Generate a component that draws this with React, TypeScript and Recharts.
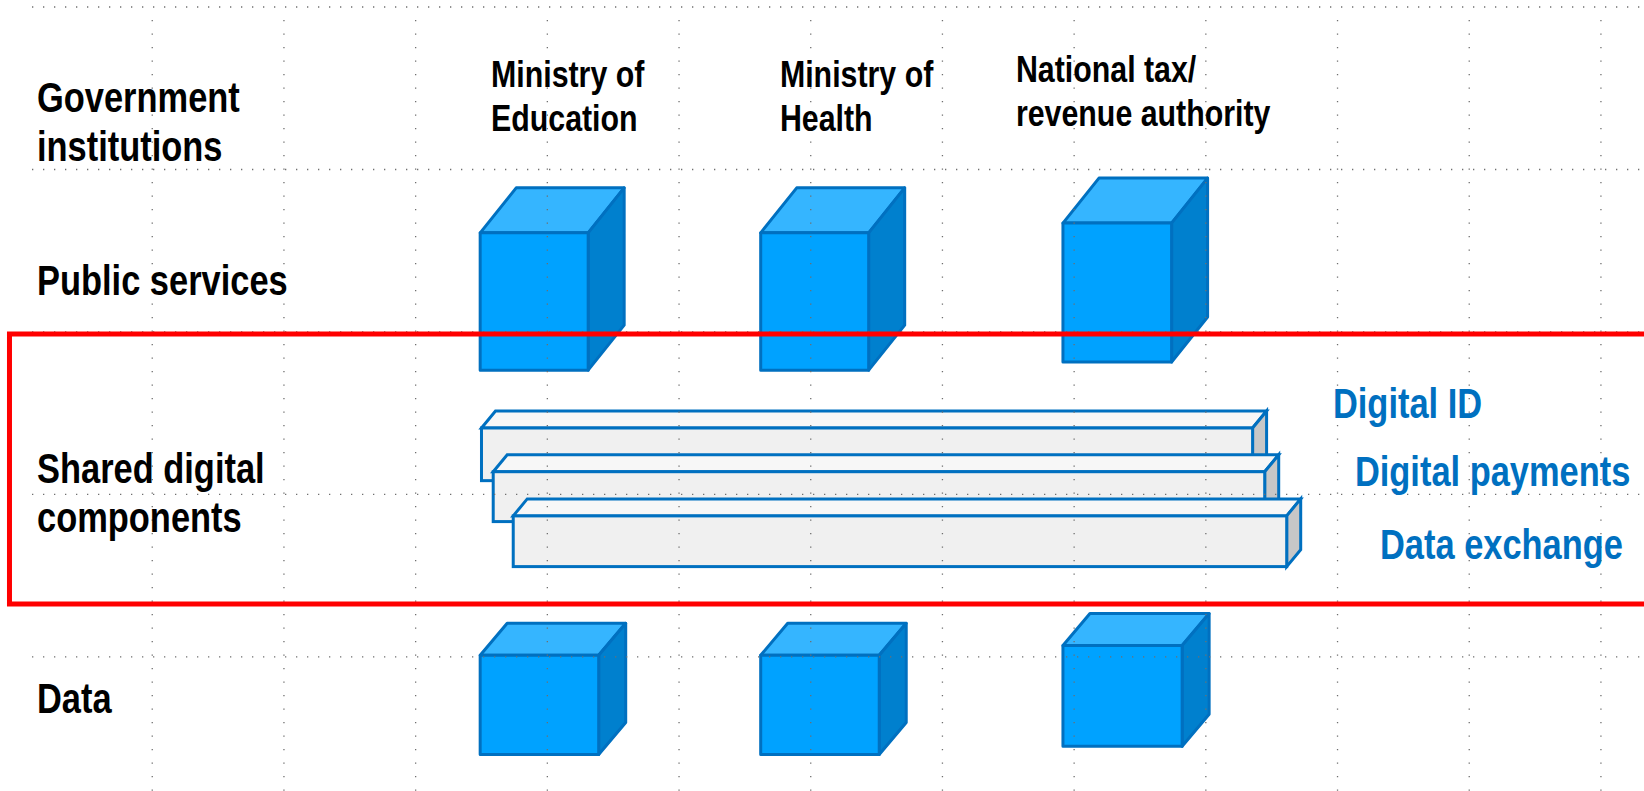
import React from 'react';
import { ScatterChart, XAxis, YAxis, ReferenceArea, ReferenceLine, Scatter } from 'recharts';

// everything is placed in grid units: one unit = one cell of the dotted slide grid
const X_DOMAIN = [-0.156, 12.327];
const Y_DOMAIN = [-0.043, 4.825];

const gridColumns = [1, 2, 3, 4, 5, 6, 7, 8, 9, 10, 11, 12];
const gridRows = [0, 1, 2, 3, 4];

const layers = ['Government institutions', 'Public services', 'Shared digital components', 'Data'];
const layerLines = [['Government', 'institutions'], ['Public services'], ['Shared digital', 'components'], ['Data']];
const layerLabelRow = [0.646, 1.772, 2.929, 4.345];
const layerLabelCol = 0.125;

const institutions = ['Ministry of Education', 'Ministry of Health', 'National tax/revenue authority'];
const institutionLines = [['Ministry of', 'Education'], ['Ministry of', 'Health'], ['National tax/', 'revenue authority']];
const institutionLabelCol = [3.572, 5.766, 7.558];
const institutionLabelRow = [0.492, 0.492, 0.462];

// one stack of cubes per institution
const stackLeft = [3.49, 5.62, 7.915];
const serviceTop = [1.39, 1.39, 1.33];
const serviceBottom = [2.235, 2.235, 2.185];
const serviceRight = [4.31, 6.44, 8.74];
const dataTop = [3.99, 3.99, 3.93];
const dataBottom = [4.6, 4.6, 4.55];
const dataRight = [4.39, 6.52, 8.82];

const components = ['Digital ID', 'Digital payments', 'Data exchange'];
const componentStart = [3.5, 3.589, 3.741];
const componentEnd = [9.355, 9.447, 9.614];
const componentTop = [2.591, 2.86, 3.132];
const componentBottom = [2.915, 3.167, 3.444];
const componentLabelCol = [9.965, 10.132, 10.322];
const componentLabelRow = [2.529, 2.948, 3.397];

// red frame around the shared layer
const frame = { left: -0.084, right: 12.5, top: 2.012, bottom: 3.674 };

// no narrow font installed, so squeeze Liberation Sans like Arial Narrow
const FONT = "'Liberation Sans', Arial, sans-serif";
const NARROW = 0.82;
const BLUE_LINE = '#0070C0';
const GRID_DOT = '#6f6f6f';

const layerLabels = layers.map((name, i) => ({ name, lines: layerLines[i], col: layerLabelCol, row: layerLabelRow[i] }));
const institutionLabels = institutions.map((name, i) => ({ name, lines: institutionLines[i], col: institutionLabelCol[i], row: institutionLabelRow[i] }));
const componentLabels = components.map((name, i) => ({ name, lines: [name], col: componentLabelCol[i], row: componentLabelRow[i] }));

const makeCube = (dx: number, dy: number) => (props: any) => {
    const { x, y, width: w, height: h } = props;
    const top = `${x},${y} ${x + dx},${y + dy} ${x + w + dx},${y + dy} ${x + w},${y}`;
    const side = `${x + w},${y} ${x + w + dx},${y + dy} ${x + w + dx},${y + h + dy} ${x + w},${y + h}`;
    return (
        <g strokeLinejoin="round">
            <polygon points={top} fill="#35B5FF" stroke={BLUE_LINE} strokeWidth={3} />
            <polygon points={side} fill="#0080CE" stroke={BLUE_LINE} strokeWidth={3} />
            <rect x={x} y={y} width={w} height={h} fill="#00A2FF" stroke={BLUE_LINE} strokeWidth={3} />
        </g>
    );
};

const renderSlab = (props: any) => {
    const { x, y, width: w, height: h } = props;
    const dx = 14;
    const dy = -17;
    const top = `${x},${y} ${x + dx},${y + dy} ${x + w + dx},${y + dy} ${x + w},${y}`;
    const side = `${x + w},${y} ${x + w + dx},${y + dy} ${x + w + dx},${y + h + dy} ${x + w},${y + h}`;
    return (
        <g strokeLinejoin="miter">
            <polygon points={top} fill="#F7F7F7" stroke={BLUE_LINE} strokeWidth={3} />
            <polygon points={side} fill="#C7C7C7" stroke={BLUE_LINE} strokeWidth={3} />
            <rect x={x} y={y} width={w} height={h} fill="#F0F0F0" stroke={BLUE_LINE} strokeWidth={3} />
        </g>
    );
};

const makeText = (fontSize: number, lineHeight: number, fill: string) => (props: any) => {
    const { cx, cy, payload } = props;
    return (
        <text transform={`translate(${cx},${cy}) scale(${NARROW},1)`} x={0} y={0}
            fontFamily={FONT} fontWeight="bold" fontSize={fontSize} fill={fill}>
            {payload.lines.map((line: string, i: number) => (
                <tspan key={i} x={0} dy={i === 0 ? 0 : lineHeight}>{line}</tspan>
            ))}
        </text>
    );
};

const serviceCube = makeCube(36, -45);
const dataCube = makeCube(27, -32);

export default function App() {
    return (
        <div style={{ position: 'absolute', left: 0, top: 0, width: 1644, height: 791, background: '#fff', overflow: 'hidden' }}>
            <ScatterChart width={1644} height={791} margin={{ top: 0, right: 0, bottom: 0, left: 0 }}>
                <XAxis type="number" dataKey="col" domain={X_DOMAIN} allowDataOverflow hide />
                <YAxis type="number" dataKey="row" domain={Y_DOMAIN} allowDataOverflow reversed hide />

                {institutions.map((name, i) => (
                    <ReferenceArea key={'svc' + name} x1={stackLeft[i]} x2={serviceRight[i]} y1={serviceTop[i]} y2={serviceBottom[i]}
                        ifOverflow="visible" shape={serviceCube} zIndex={100} />
                ))}
                {institutions.map((name, i) => (
                    <ReferenceArea key={'data' + name} x1={stackLeft[i]} x2={dataRight[i]} y1={dataTop[i]} y2={dataBottom[i]}
                        ifOverflow="visible" shape={dataCube} zIndex={100} />
                ))}
                {components.map((name, i) => (
                    <ReferenceArea key={name} x1={componentStart[i]} x2={componentEnd[i]} y1={componentTop[i]} y2={componentBottom[i]}
                        ifOverflow="visible" shape={renderSlab} zIndex={110 + i} />
                ))}

                {gridColumns.map((c) => (
                    <ReferenceLine key={'gc' + c} segment={[{ x: c, y: 0.08 }, { x: c, y: Y_DOMAIN[1] }]} ifOverflow="visible"
                        stroke={GRID_DOT} strokeWidth={1.3} strokeDasharray="1.3 12.2" zIndex={200} />
                ))}
                {gridRows.map((r) => (
                    <ReferenceLine key={'gr' + r} segment={[{ x: 0.087, y: r }, { x: X_DOMAIN[1], y: r }]} ifOverflow="visible"
                        stroke={GRID_DOT} strokeWidth={1.3} strokeDasharray="1.3 9.7" zIndex={200} />
                ))}

                <ReferenceArea x1={frame.left} x2={frame.right} y1={frame.top} y2={frame.bottom} ifOverflow="visible"
                    fill="none" fillOpacity={0} stroke="#FF0000" strokeWidth={5} zIndex={300} />

                <Scatter data={layerLabels} shape={makeText(42, 49, '#000')} isAnimationActive={false} zIndex={400} />
                <Scatter data={institutionLabels} shape={makeText(37, 44, '#000')} isAnimationActive={false} zIndex={400} />
                <Scatter data={componentLabels} shape={makeText(42, 0, BLUE_LINE)} isAnimationActive={false} zIndex={400} />
            </ScatterChart>
        </div>
    );
}
